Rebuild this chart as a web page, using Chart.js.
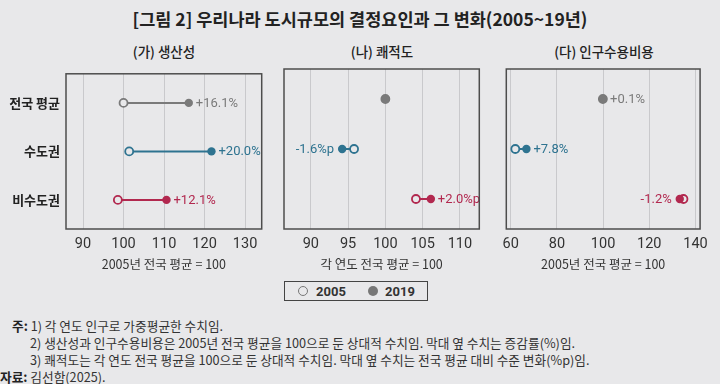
<!DOCTYPE html>
<html>
<head>
<meta charset="utf-8">
<script src="https://cdn.jsdelivr.net/npm/chart.js@4.4.1/dist/chart.umd.min.js"></script>
<style>
  body { margin: 0; background: #e8e8ea; font-family: "Noto Sans CJK KR", sans-serif; color: #333; }
  #wrap { position: relative; width: 720px; height: 384px; overflow: hidden; }
  .abs { position: absolute; white-space: nowrap; }
  .title { top: 6px; left: 0; width: 720px; text-align: center; font-size: 17.5px; font-weight: 700; color: #222; }
  .ptitle { top: 41px; font-size: 13.5px; font-weight: 500; color: #222; transform: translateX(-50%); }
  .note { font-size: 12.7px; color: #333; }
  .note b { font-weight: 700; color: #222; }
  #legend { left: 284px; top: 281px; width: 144px; height: 20px; border: 1px solid #444; box-sizing: border-box; }
  .dot { position: absolute; top: 4px; width: 10px; height: 10px; border-radius: 50%; box-sizing: border-box; }
  .lt { position: absolute; top: 0px; font-family: Roboto, "Noto Sans CJK KR", sans-serif; font-weight: 700; font-size: 13px; line-height: 19px; color: #333; }
</style>
</head>
<body>
<div id="wrap">
  <div class="abs title">[그림 2] 우리나라 도시규모의 결정요인과 그 변화(2005~19년)</div>
  <div class="abs ptitle" style="left:164px">(가) 생산성</div>
  <div class="abs ptitle" style="left:382px">(나) 쾌적도</div>
  <div class="abs ptitle" style="left:604px">(다) 인구수용비용</div>

  <div class="abs" style="left:0;top:60px;width:275px;height:220px"><canvas id="c1"></canvas></div>
  <div class="abs" style="left:275px;top:60px;width:215px;height:220px"><canvas id="c2"></canvas></div>
  <div class="abs" style="left:495px;top:60px;width:220px;height:220px"><canvas id="c3"></canvas></div>

  <div class="abs" id="legend">
    <span class="dot" style="left:13px;border:1.5px solid #777;"></span><span class="lt" style="left:31px">2005</span>
    <span class="dot" style="left:83px;background:#777;"></span><span class="lt" style="left:100px">2019</span>
  </div>

  <div class="abs note" style="left:12px;top:316px"><b>주:</b> 1) 각 연도 인구로 가중평균한 수치임.</div>
  <div class="abs note" style="left:30px;top:333px">2) 생산성과 인구수용비용은 2005년 전국 평균을 100으로 둔 상대적 수치임. 막대 옆 수치는 증감률(%)임.</div>
  <div class="abs note" style="left:30px;top:350px">3) 쾌적도는 각 연도 전국 평균을 100으로 둔 상대적 수치임. 막대 옆 수치는 전국 평균 대비 수준 변화(%p)임.</div>
  <div class="abs note" style="left:0px;top:367px"><b>자료:</b> 김선함(2025).</div>
</div>
<script>
var rows = ["전국 평균", "수도권", "비수도권"];
var rowColors = ["#7a7a7a", "#2e7390", "#b2284f"];

var prod2005 = [100, 101.4, 98.6];
var prod2019 = [116.1, 121.7, 110.6];
var prodLabels = ["+16.1%", "+20.0%", "+12.1%"];
var prodTicks = [90, 100, 110, 120, 130];

var amen2005 = [100, 95.8, 104.1];
var amen2019 = [100, 94.2, 106.1];
var amenLabels = ["", "-1.6%p", "+2.0%p"];
var amenTicks = [90, 95, 100, 105, 110];

var cost2005 = [99.9, 62.0, 134.8];
var cost2019 = [100, 66.8, 133.2];
var costLabels = ["+0.1%", "+7.8%", "-1.2%"];
var costTicks = [60, 80, 100, 120, 140];

var bg = "#e8e8ea";
var numFont = "Roboto, 'Noto Sans CJK KR', sans-serif";

// labels next to the 2019 dot + frame round the plot
var dumbbellPlugin = {
  id: "dumbbell",
  afterDatasetsDraw: function (chart) {
    var c = chart.ctx;
    var opts = chart.options.plugins.dumbbell;
    var meta = chart.getDatasetMeta(0);
    c.save();
    c.font = "13px " + numFont;
    c.textBaseline = "middle";
    for (var i = 0; i < opts.labels.length; i++) {
      if (!opts.labels[i]) continue;
      var pt = meta.data[i];
      c.fillStyle = rowColors[i];
      if (opts.v2019[i] >= opts.v2005[i]) {
        c.textAlign = "left";
        c.fillText(opts.labels[i], pt.x + 7, pt.y + 0.5);
      } else {
        c.textAlign = "right";
        c.fillText(opts.labels[i], pt.x - 8, pt.y + 0.5);
      }
    }
    c.restore();
  },
  afterDraw: function (chart) {
    var a = chart.chartArea;
    var c = chart.ctx;
    c.save();
    c.strokeStyle = "#4d4d4d";
    c.lineWidth = 1.5;
    c.strokeRect(a.left, a.top, a.right - a.left, a.bottom - a.top);
    c.restore();
  }
};

function makePanel(id, v2005, v2019, labels, ticks, xmin, xmax, xTitle, pad, showRows) {
  var datasets = [];
  datasets.push({
    data: v2019.map(function (v, i) { return { x: v, y: i + 1 }; }),
    pointRadius: 4.2,
    pointBackgroundColor: rowColors,
    pointBorderColor: rowColors,
    pointBorderWidth: 0,
    showLine: false,
    order: 0
  });
  datasets.push({
    data: v2005.map(function (v, i) { return { x: v, y: i + 1 }; }),
    pointRadius: 4,
    pointBackgroundColor: bg,
    pointBorderColor: rowColors,
    pointBorderWidth: 1.8,
    showLine: false,
    order: 1
  });
  for (var i = 0; i < rows.length; i++) {
    datasets.push({
      data: [{ x: v2005[i], y: i + 1 }, { x: v2019[i], y: i + 1 }],
      showLine: true,
      borderColor: rowColors[i],
      borderWidth: 2,
      pointRadius: 0,
      order: 2
    });
  }

  return new Chart(document.getElementById(id), {
    type: "scatter",
    data: { datasets: datasets },
    plugins: [dumbbellPlugin],
    options: {
      responsive: true,
      maintainAspectRatio: false,
      animation: false,
      layout: { padding: pad },
      plugins: {
        legend: { display: false },
        tooltip: { enabled: false },
        dumbbell: { labels: labels, v2005: v2005, v2019: v2019 }
      },
      scales: {
        x: {
          type: "linear",
          min: xmin,
          max: xmax,
          afterBuildTicks: function (axis) {
            axis.ticks = ticks.map(function (v) { return { value: v }; });
          },
          afterFit: function (axis) { axis.height = 46; },
          grid: { color: "#c9c9cc", lineWidth: 1, drawTicks: false },
          border: { display: false },
          ticks: {
            padding: 7,
            color: "#333",
            font: { family: numFont, size: 14.5 },
            maxRotation: 0,
            autoSkip: false
          },
          title: {
            display: true,
            text: xTitle,
            color: "#333",
            font: { family: "'Noto Sans CJK KR', sans-serif", size: 12.5 },
            padding: { top: 0, bottom: 3 }
          }
        },
        y: {
          type: "linear",
          reverse: true,
          min: 0.4,
          max: 3.6,
          display: showRows,
          afterBuildTicks: function (axis) {
            axis.ticks = rows.map(function (r, i) { return { value: i + 1 }; });
          },
          afterFit: function (axis) { axis.width = showRows ? 66 : 0; },
          grid: { display: false, drawTicks: false },
          border: { display: false },
          ticks: {
            padding: 6,
            color: "#222",
            font: { family: "'Noto Sans CJK KR', sans-serif", size: 13, weight: "bold" },
            callback: function (v) { return rows[Math.round(v) - 1]; }
          }
        }
      }
    }
  });
}

makePanel("c1", prod2005, prod2019, prodLabels, prodTicks, 85.8, 134.1, "2005년 전국 평균 = 100",
  { left: 0, right: 13.3, top: 9, bottom: 5 }, true);
makePanel("c2", amen2005, amen2019, amenLabels, amenTicks, 86.4, 112.6, "각 연도 전국 평균 = 100",
  { left: 9, right: 10.7, top: 9, bottom: 5 }, false);
makePanel("c3", cost2005, cost2019, costLabels, costTicks, 58.1, 142, "2005년 전국 평균 = 100",
  { left: 11.3, right: 13, top: 9, bottom: 5 }, false);
</script>
</body>
</html>
